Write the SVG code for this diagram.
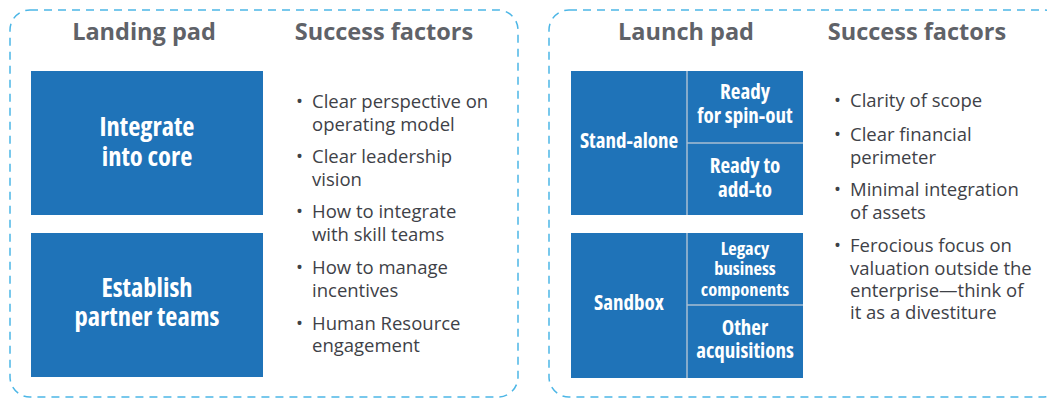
<svg xmlns="http://www.w3.org/2000/svg" width="1047" height="399" viewBox="0 0 1047 399">
<style>
.panel{fill:none;stroke:#4CB6E6;stroke-width:1.5;stroke-dasharray:8 6}
.box{fill:#1F73B8}
.div{stroke:#A8BED3;stroke-width:1.5}
.hd{font-family:"Open Sans","Liberation Sans",sans-serif;font-weight:700;font-size:23.5px;fill:#5F6268;text-anchor:middle}
.bx{font-family:"Open Sans","DejaVu Sans",sans-serif;font-weight:700;font-stretch:condensed;fill:#FFFFFF;text-anchor:middle}
.b24{font-size:26.5px}
.b20{font-size:21px}
.b17{font-size:18.5px}
.li{font-family:"Open Sans","Liberation Sans",sans-serif;font-size:18.5px;fill:#3E4147}
</style>
<g id="panel-left">
<rect class="panel" x="10" y="10" width="508" height="387" rx="20"/>
<text class="hd" x="144" y="40">Landing pad</text>
<text class="hd" x="384" y="40">Success factors</text>
</g>
<g id="panel-right">
<rect class="panel" x="549" y="10" width="515" height="387" rx="20"/>
<text class="hd" x="686" y="40">Launch pad</text>
<text class="hd" x="917" y="40">Success factors</text>
</g>
<g id="node-integrate">
<rect class="box" x="31" y="71" width="232" height="144"/>
<text class="bx b24" x="147" y="136">Integrate</text>
<text class="bx b24" x="147" y="166">into core</text>
</g>
<g id="node-establish">
<rect class="box" x="31" y="233" width="232" height="144"/>
<text class="bx b24" x="147" y="297">Establish</text>
<text class="bx b24" x="147" y="326">partner teams</text>
</g>
<g id="node-standalone">
<rect class="box" x="571" y="71" width="232" height="144"/>
<line class="div" x1="687" y1="71" x2="687" y2="215"/>
<line class="div" x1="687" y1="143" x2="803" y2="143"/>
<text class="bx b20" x="629" y="148">Stand-alone</text>
<text class="bx b20" x="745" y="99">Ready</text>
<text class="bx b20" x="745" y="123">for spin-out</text>
<text class="bx b20" x="745" y="173">Ready to</text>
<text class="bx b20" x="745" y="197">add-to</text>
</g>
<g id="node-sandbox">
<rect class="box" x="571" y="233" width="232" height="145"/>
<line class="div" x1="687" y1="233" x2="687" y2="378"/>
<line class="div" x1="687" y1="305" x2="803" y2="305"/>
<text class="bx b20" x="629" y="310">Sandbox</text>
<text class="bx b17" x="745" y="255">Legacy</text>
<text class="bx b17" x="745" y="275">business</text>
<text class="bx b17" x="745" y="296">components</text>
<text class="bx b20" x="745" y="335">Other</text>
<text class="bx b20" x="745" y="358">acquisitions</text>
</g>
<g id="list-left">
<text class="li" x="296" y="108">•</text><text class="li" x="312" y="108">Clear perspective on</text>
<text class="li" x="312" y="131">operating model</text>
<text class="li" x="296" y="163">•</text><text class="li" x="312" y="163">Clear leadership</text>
<text class="li" x="312" y="186">vision</text>
<text class="li" x="296" y="218">•</text><text class="li" x="312" y="218">How to integrate</text>
<text class="li" x="312" y="241">with skill teams</text>
<text class="li" x="296" y="274">•</text><text class="li" x="312" y="274">How to manage</text>
<text class="li" x="312" y="297">incentives</text>
<text class="li" x="296" y="330">•</text><text class="li" x="312" y="330">Human Resource</text>
<text class="li" x="312" y="352">engagement</text>
</g>
<g id="list-right">
<text class="li" x="834" y="107">•</text><text class="li" x="850" y="107">Clarity of scope</text>
<text class="li" x="834" y="141">•</text><text class="li" x="850" y="141">Clear financial</text>
<text class="li" x="850" y="164">perimeter</text>
<text class="li" x="834" y="196">•</text><text class="li" x="850" y="196">Minimal integration</text>
<text class="li" x="850" y="219">of assets</text>
<text class="li" x="834" y="252">•</text><text class="li" x="850" y="252">Ferocious focus on</text>
<text class="li" x="850" y="275">valuation outside the</text>
<text class="li" x="850" y="297">enterprise—think of</text>
<text class="li" x="850" y="319">it as a divestiture</text>
</g>
<g id="connectors"></g>
</svg>
